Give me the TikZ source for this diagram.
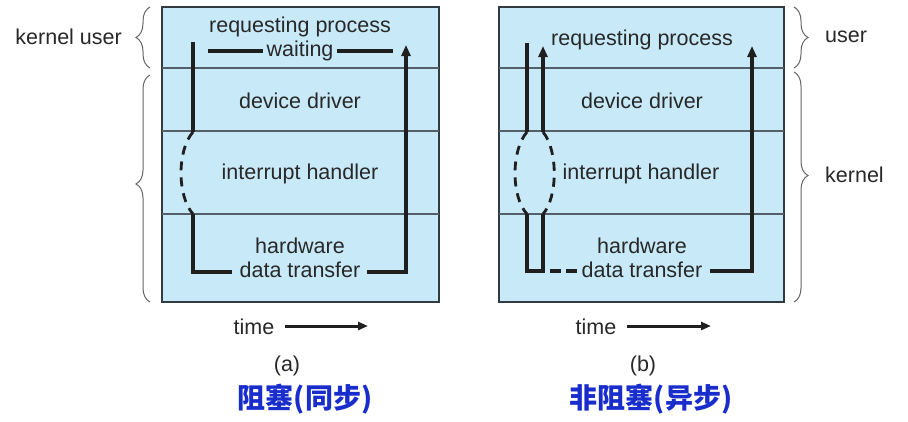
\documentclass[tikz,border=0pt]{standalone}
\usepackage{fontspec}
\setmainfont{Liberation Sans}
\newfontfamily\cjk{Noto Sans CJK SC}
\usetikzlibrary{arrows.meta,decorations.pathreplacing}
\definecolor{boxfill}{RGB}{200,233,248}
\definecolor{boxedge}{RGB}{50,58,66}
\definecolor{sepline}{RGB}{85,95,105}
\definecolor{txt}{RGB}{40,40,40}
\definecolor{cjkblue}{RGB}{25,45,205}
\begin{document}
\begin{tikzpicture}[x=1bp,y=-1bp,
  lbl/.style={text=txt,font=\fontsize{21.5bp}{24bp}\selectfont,inner sep=0pt},
  boxrect/.style={fill=boxfill,draw=boxedge,line width=1.8bp},
  sep/.style={draw=sepline,line width=1.1bp},
  flow/.style={draw=black!88,line width=3.2bp},
  flowdash/.style={draw=black!88,line width=2.8bp,dash pattern=on 9bp off 7bp},
  tip/.style={-{Triangle[length=11bp,width=9bp]}},
  bracestyle/.style={draw=black!60,line width=1bp,decorate},
  timearrow/.style={draw=black!88,line width=3bp,-{Triangle[length=10bp,width=8bp]}},
  cjklabel/.style={text=cjkblue,font=\cjk\bfseries\fontsize{28bp}{30bp}\selectfont,inner sep=0pt}]
\useasboundingbox (0,0) rectangle (908,421);
\fill[white] (0,0) rectangle (908,421);

% ---------- (a) ----------
\path[boxrect] (162,7) rectangle (439,302);
\draw[sep] (162,68) -- (439,68);
\draw[sep] (162,131) -- (439,131);
\draw[sep] (162,214) -- (439,214);

\node[lbl] (rpa) at (300,27) {requesting process};
\node[lbl] (wait) at (300,51) {waiting};
\node[lbl] (dda) at (300,101) {device driver};
\node[lbl] (iha) at (300,174) {interrupt handler};
\node[lbl] (hwa) at (300,246) {hardware};
\node[lbl] (dta) at (300,270) {data transfer};

\coordinate (a1) at (193,42);
\coordinate (a2) at (193,132);
\coordinate (a3) at (193,214);
\coordinate (a4) at (193,272);
\coordinate (a5) at (232,272);
\coordinate (a6) at (367,272);
\coordinate (a7) at (406,272);
\coordinate (a8) at (406,45);
\coordinate (w1) at (208,51);
\coordinate (w2) at (263,51);
\coordinate (w3) at (337,51);
\coordinate (w4) at (393,51);

\draw[flow] (a1) -- (a2);
\draw[flowdash] (a2) .. controls (177,150) and (177,196) .. (a3);
\draw[flow] (a3) -- (a4) -- (a5);
\draw[flow,tip] (a6) -- (a7) -- (a8);
\draw[flow] (w1) -- (w2);
\draw[flow] (w3) -- (w4);

% ---------- (b) ----------
\path[boxrect] (499,7) rectangle (784,302);
\draw[sep] (499,68) -- (784,68);
\draw[sep] (499,131) -- (784,131);
\draw[sep] (499,214) -- (784,214);

\node[lbl] (rpb) at (642,40) {requesting process};
\node[lbl] (ddb) at (642,101) {device driver};
\node[lbl] (ihb) at (641,174) {interrupt handler};
\node[lbl] (hwb) at (642,246) {hardware};
\node[lbl] (dtb) at (642,270) {data transfer};

\coordinate (b1) at (527,43);
\coordinate (b2) at (527,132);
\coordinate (b3) at (527,214);
\coordinate (b4) at (527,271);
\coordinate (b5) at (545,271);
\coordinate (c1) at (543,132);
\coordinate (c0) at (543,46);
\coordinate (c3) at (543,214);
\coordinate (c4) at (543,271);
\coordinate (d1) at (550,271);
\coordinate (d2) at (578,271);
\coordinate (e1) at (710,271);
\coordinate (e2) at (752,271);
\coordinate (e3) at (752,46);

\draw[flow] (b1) -- (b2);
\draw[flow,tip] (c1) -- (c0);
\draw[flowdash] (b2) .. controls (511,150) and (511,197) .. (b3);
\draw[flowdash] (c1) .. controls (558,150) and (558,197) .. (c3);
\draw[flow] (b3) -- (b4) -- (b5);
\draw[flow] (c3) -- (c4);
\draw[draw=black!88,line width=3.2bp,dash pattern=on 11bp off 5bp] (d1) -- (d2);
\draw[flow,tip] (e1) -- (e2) -- (e3);

% ---------- braces ----------
\draw[bracestyle,decoration={brace,amplitude=14bp}] (150,68) -- (150,7);
\draw[bracestyle,decoration={brace,amplitude=14bp,aspect=0.52}] (150,302) -- (150,75);
\draw[bracestyle,decoration={brace,amplitude=14bp}] (794,7) -- (794,68);
\draw[bracestyle,decoration={brace,amplitude=14bp,aspect=0.45}] (794,72) -- (794,302);

\node[lbl,anchor=east] (ku) at (122,37) {kernel user};
\node[lbl,anchor=west] (us) at (825,37) {user};
\node[lbl,anchor=west] (ke) at (825,175) {kernel};

% ---------- time axes ----------
\node[lbl] (ta) at (254,327) {time};
\coordinate (ta1) at (285,326);
\coordinate (ta2) at (368,326);
\draw[timearrow] (ta1) -- (ta2);
\node[lbl] (tb) at (596,327) {time};
\coordinate (tb1) at (627,326);
\coordinate (tb2) at (711,326);
\draw[timearrow] (tb1) -- (tb2);

% ---------- captions ----------
\node[lbl] (capa) at (287,366) {(a)};
\node[lbl] (capb) at (643,366) {(b)};
\node[cjklabel] (cna) at (305,399) {阻塞(同步)};
\node[cjklabel] (cnb) at (651,399) {非阻塞(异步)};
\end{tikzpicture}
\end{document}
